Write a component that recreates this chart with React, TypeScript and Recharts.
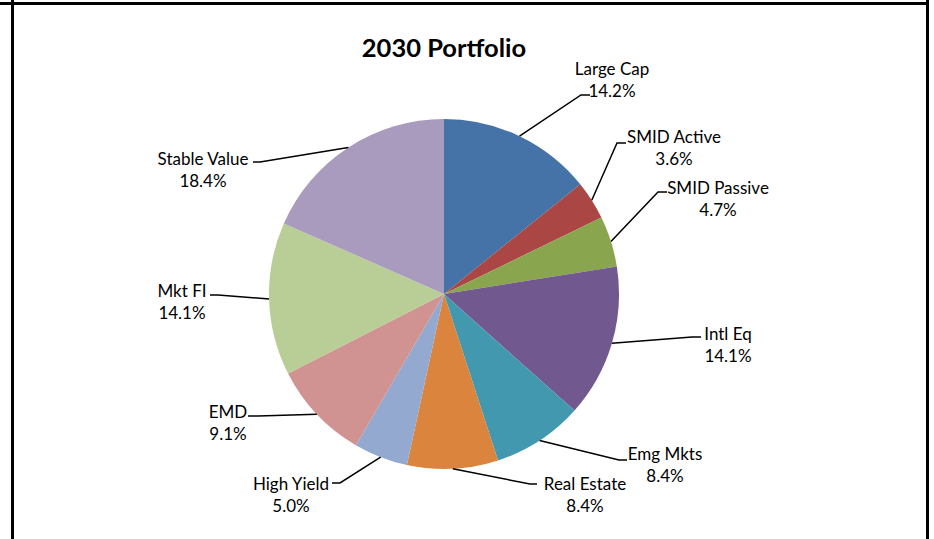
import { Pie, PieChart, Cell } from 'recharts';

const categories = ['Large Cap', 'SMID Active', 'SMID Passive', 'Intl Eq', 'Emg Mkts', 'Real Estate', 'High Yield', 'EMD', 'Mkt FI', 'Stable Value'];
const weights = [14.2, 3.6, 4.7, 14.1, 8.4, 8.4, 5.0, 9.1, 14.1, 18.4];
const colors = ['#4572A7', '#AA4643', '#89A54E', '#71588F', '#4198AF', '#DB843D', '#93A9CF', '#D19392', '#B9CD96', '#A99BBD'];

// label placement relative to pie centre: elbow of leader, end of short stub, centre of text block
const labelLayout = [
  { ex: 137, ey: -199, sx: 146, tx: 168, ty: -226 },
  { ex: 173, ey: -151, sx: 182, tx: 230, ty: -158 },
  { ex: 214, ey: -102, sx: 223, tx: 274, ty: -107 },
  { ex: 248, ey: 43, sx: 257, tx: 284, ty: 39 },
  { ex: 175, ey: 166, sx: 183, tx: 221, ty: 159 },
  { ex: 86, ey: 190, sx: 93, tx: 141, ty: 189 },
  { ex: -104, ey: 189, sx: -112, tx: -153, ty: 189 },
  { ex: -186, ey: 122, sx: -196, tx: -216, ty: 117 },
  { ex: -226, ey: 1, sx: -234, tx: -262, ty: -4 },
  { ex: -184, ey: -132, sx: -191, tx: -241, ty: -136 },
];

const data = categories.map((name, i) => ({ name, value: weights[i] }));

const FONT = 'Lato, "Open Sans", sans-serif';
const RAD = Math.PI / 180;

function renderLabel(props: any) {
  const { cx, cy, midAngle, outerRadius, index, name, value } = props;
  const l = labelLayout[index];
  const px = cx + outerRadius * Math.cos(-midAngle * RAD);
  const py = cy + outerRadius * Math.sin(-midAngle * RAD);
  return (
    <g>
      <polyline
        points={`${px},${py} ${cx + l.ex},${cy + l.ey} ${cx + l.sx},${cy + l.ey}`}
        fill="none"
        stroke="#000"
        strokeWidth={1.5}
      />
      <text x={cx + l.tx} y={cy + l.ty} textAnchor="middle" dominantBaseline="central" fontSize={17} fontFamily={FONT} fill="#000">
        {name}
      </text>
      <text x={cx + l.tx} y={cy + l.ty + 22} textAnchor="middle" dominantBaseline="central" fontSize={17} fontFamily={FONT} fill="#000">
        {value.toFixed(1)}%
      </text>
    </g>
  );
}

export default function App() {
  return (
    <div style={{ position: 'absolute', left: 0, top: 0, width: 934, height: 539, background: '#fff', overflow: 'hidden' }}>
      <div style={{ position: 'absolute', left: 0, top: 2, width: 929, height: 3, background: '#000' }} />
      <div style={{ position: 'absolute', left: 11, top: 0, width: 3, height: 539, background: '#000' }} />
      <div style={{ position: 'absolute', left: 926, top: 0, width: 3, height: 539, background: '#000' }} />
      <div style={{ position: 'absolute', left: 0, top: 0 }}>
        <PieChart width={934} height={539} margin={{ top: 0, right: 0, bottom: 0, left: 0 }}>
          <text x={444} y={47} textAnchor="middle" dominantBaseline="central" fontSize={25.5} fontWeight="bold" fontFamily={FONT} fill="#000">
            2030 Portfolio
          </text>
          <Pie
            data={data}
            dataKey="value"
            nameKey="name"
            cx={444}
            cy={294}
            outerRadius={175}
            startAngle={90}
            endAngle={-270}
            stroke="none"
            label={renderLabel}
            labelLine={false}
            isAnimationActive={false}
          >
            {data.map((d, i) => (
              <Cell key={d.name} fill={colors[i]} />
            ))}
          </Pie>
        </PieChart>
      </div>
    </div>
  );
}
